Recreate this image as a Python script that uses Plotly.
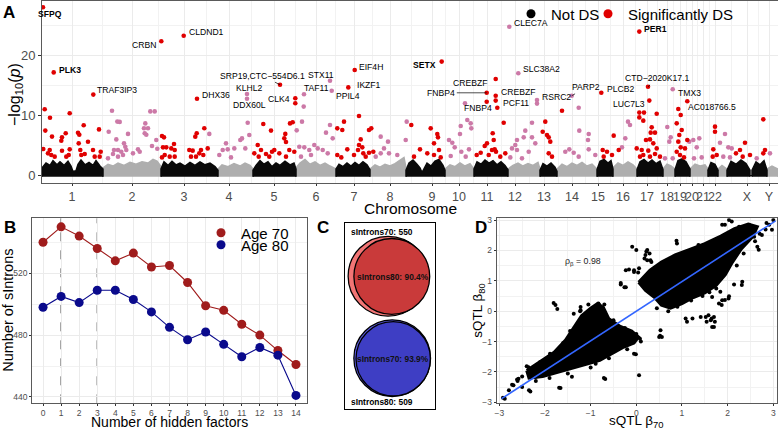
import plotly.graph_objects as go

FONT = "Liberation Sans, Arial, Helvetica, sans-serif"
W, H = 778, 428

# ================= Panel A data (Manhattan) =================
chrom_labels = [str(i) for i in range(1, 23)] + ["X", "Y"]
chrom_pos = [72, 132, 184, 229, 274, 316, 354, 390, 432, 459, 487, 515,
             544, 572, 598, 623, 647, 667, 680, 692, 703, 715, 747, 769]

# dense non-significant band (top of the point cloud per chromosome)
band_black_x = [
    [42, 46, 50, 53, 57, 60, 64, 68, 71, 73, 76, 78, 81, 85, 89, 93, 96, 100, 103],
    [161, 164, 168, 172, 176, 180, 185, 190, 195, 200, 205, 210, 215, 218],
    [253, 256, 260, 264, 268, 272, 276, 280, 285, 290, 294, 296],
    [336, 339, 343, 347, 351, 355, 359, 363, 367, 370],
    [406, 409, 413, 417, 420, 422, 424, 427, 431, 435, 439, 443, 445],
    [474, 477, 481, 485, 489, 493, 497, 501, 505, 508],
    [540, 543, 547, 551, 555, 557],
    [597, 600, 604, 608, 611, 613],
    [637, 640, 644, 648, 652, 656, 660, 663],
    [675, 678, 682, 686, 690],
    [708, 711, 715, 718],
    [727, 731, 736, 741, 746, 750],
    [752, 756, 760, 764, 767],
]
band_black_top = [
    [1.2, 2.0, 1.6, 2.4, 1.7, 2.2, 1.6, 2.3, 1.5, 0.6, 0.7, 1.8, 2.5, 1.7, 2.1, 1.6, 2.4, 1.5, 1.0],
    [1.0, 2.2, 1.6, 2.3, 1.7, 2.0, 1.5, 2.1, 1.6, 2.2, 1.7, 2.0, 1.4, 0.8],
    [0.8, 1.6, 2.4, 1.8, 2.2, 1.4, 2.0, 1.6, 2.3, 1.7, 2.0, 1.0],
    [1.0, 1.8, 1.4, 2.0, 1.5, 2.1, 1.6, 2.2, 1.7, 0.9],
    [0.8, 2.0, 2.5, 1.8, 1.2, 0.4, 1.0, 2.0, 1.5, 2.3, 2.6, 1.6, 0.8],
    [1.0, 2.2, 1.8, 2.5, 2.0, 2.4, 1.7, 2.2, 1.6, 0.9],
    [0.8, 1.9, 1.5, 2.0, 1.3, 0.6],
    [0.9, 2.3, 2.6, 2.0, 2.4, 1.0],
    [0.9, 2.2, 2.6, 2.0, 2.5, 1.9, 2.3, 0.9],
    [0.9, 2.4, 2.7, 2.2, 1.0],
    [0.8, 2.1, 1.8, 0.8],
    [0.8, 2.3, 1.8, 2.5, 1.9, 0.8],
    [0.8, 2.2, 1.7, 2.4, 0.8],
]
band_grey_x = [
    [103, 108, 113, 118, 124, 130, 136, 142, 148, 153, 157, 161],
    [218, 222, 228, 234, 240, 245, 250, 253],
    [296, 300, 305, 310, 315, 320, 325, 330, 336],
    [370, 375, 380, 385, 390, 395, 400, 404, 406],
    [445, 450, 455, 460, 465, 470, 474],
    [508, 513, 518, 523, 528, 533, 538, 540],
    [557, 562, 567, 572, 577, 582, 587, 592, 597],
    [613, 618, 623, 628, 633, 637],
    [663, 667, 671, 675],
    [690, 695, 700, 705, 708],
    [718, 722, 727],
    [767, 772, 778],
]
band_grey_top = [
    [1.2, 1.8, 1.5, 2.0, 1.6, 2.1, 1.8, 2.2, 2.0, 2.6, 2.3, 1.4],
    [1.0, 1.7, 1.4, 1.9, 1.5, 2.0, 1.6, 1.0],
    [1.2, 2.0, 2.6, 1.8, 2.2, 1.6, 2.0, 1.5, 1.0],
    [1.0, 1.7, 1.3, 1.8, 1.5, 1.9, 2.4, 2.9, 1.2],
    [1.0, 1.7, 1.4, 2.0, 1.5, 1.9, 1.0],
    [1.0, 1.6, 2.0, 1.5, 1.9, 1.6, 2.1, 1.0],
    [1.0, 1.8, 1.4, 2.0, 1.6, 2.1, 1.5, 1.8, 1.0],
    [1.2, 2.0, 1.6, 2.2, 1.7, 1.0],
    [1.0, 1.8, 1.5, 1.0],
    [1.0, 1.8, 1.5, 1.7, 1.0],
    [1.0, 1.6, 1.0],
    [1.0, 1.5, 1.0],
]

# significant points (odd chromosomes -> red, even chromosomes -> pink)
sig_red_x = [44.7, 50, 69.7, 45.3, 83.7, 99, 52, 65.7, 62, 61.3, 78, 79.3, 78.7, 88, 43.3, 49.7, 62, 69.7,
             80.3, 93, 100.7, 51.3, 54.7, 66.3, 81.3, 94.7, 48, 68.7, 84.7, 99.7,
             162, 164, 174, 163, 166.3, 171.3, 174.7, 162, 169.7, 174.7, 164.7, 196.7, 204.3, 195.3,
             189.3, 192.7, 199.3, 203.3, 207.7, 191, 196, 201,
             263.3, 271, 285.3, 284.3, 286, 290, 292.7, 257.7, 261, 272, 274.3, 254.3, 266, 279.3,
             289.3, 294.3, 286, 269.3, 258.7, 295.3,
             344, 337.3, 342.3, 359, 369, 371.3, 360.7, 359, 362.3, 347.3, 358, 369, 373.3, 337.3,
             341.3, 354, 365.7, 363.3,
             411.3, 420, 430.7, 437.3, 438, 434, 439, 427.3, 434, 440.7, 414,
             476.7, 480.7, 503.7, 492.7, 493.7, 487, 484.7, 492, 494.7, 496, 500.3, 488.7, 505.3, 486.7,
             545.3, 542.7, 547, 548.7, 550.3, 548.7, 552, 562,
             613.7, 602.7, 607, 612, 618.7, 603.7,
             639.3, 644, 656.7, 643.3, 639.3, 651.7, 650.7, 655, 646, 650, 653.3, 636.7, 641.7, 648.3,
             656.7, 643.3, 650, 655, 660, 640,
             678.3, 680.7, 676.7, 681.7, 679.3, 678.3, 680.7, 685, 676.7, 680, 684, 687.3,
             715, 715, 713.3, 716.7, 712.7,
             745, 740, 736, 750, 742.7,
             763.3, 765, 763.3]
sig_red_y = [10.95, 9.55, 10.3, 7.4, 8.3, 7.6, 6.4, 6.95, 6.28, 5.7, 7.05, 6.7, 5.28, 5.55, 4.33, 4.17, 4.05, 4.28,
             4.17, 4.17, 3.89, 3.33, 3.06, 3.06, 3.33, 3.06, 3.61, 3.33, 3.5, 3.06,
             6.5, 6.28, 5.17, 4.61, 4.61, 4.44, 4.17, 2.94, 3.06, 3.06, 3.33, 6.95, 7.8, 6.39,
             4.17, 4.06, 3.61, 3.33, 4.44, 3.06, 3.06, 4.17,
             8.5, 7.4, 6.85, 6.11, 5.5, 8.6, 8.8, 5.0, 4.17, 3.89, 4.17, 3.61, 3.5, 3.61,
             4.17, 3.89, 3.06, 3.06, 3.06, 11.95,
             8.89, 7.78, 7.5, 9.83, 7.5, 7.78, 5.94, 5.0, 4.61, 4.28, 4.17, 3.72, 3.89, 3.33,
             2.94, 3.33, 3.06, 3.61,
             8.33, 4.28, 7.78, 6.83, 6.28, 5.28, 4.17, 3.61, 3.33, 2.94, 3.06,
             3.33, 3.72, 8.72, 6.95, 5.83, 5.28, 4.83, 4.17, 4.28, 3.89, 3.06, 3.33, 3.61, 12.2,
             8.89, 7.22, 6.67, 6.28, 5.56, 3.61, 3.06, 10.7,
             6.56, 4.17, 3.89, 3.33, 4.17, 3.06,
             10.4, 10.4, 10.2, 9.06, 9.6, 7.94, 7.06, 7.06, 5.83, 5.94, 5.28, 4.44, 4.17, 4.06,
             4.44, 3.33, 3.06, 3.5, 3.06, 3.06,
             11.0, 10.0, 8.61, 7.5, 6.67, 5.56, 4.61, 4.44, 3.89, 3.33, 2.94, 5.83,
             8.06, 7.22, 4.28, 3.33, 3.06,
             5.39, 4.17, 3.61, 3.33, 3.06,
             9.28, 4.17, 3.61]
sig_pink_x = [112, 150.3, 154.7, 117.3, 119.7, 145.3, 148, 144, 108.7, 128, 144.7, 146.3, 116.3, 124, 125.3,
              138, 152, 156.3, 157.3, 114, 118, 121.3, 126.3, 108, 118, 133, 139.7, 113, 123,
              209.3, 227.7, 234.3, 226, 240.3, 242, 247.7, 249.3, 245.3, 219.3, 231, 222.7,
              302, 296.7, 299.3, 304.3, 309.3, 314.3, 317.7, 326, 330, 332.7, 322.7, 301, 311, 327.7, 303.7,
              380.7, 388, 384, 380.7, 389, 397.3, 405.7, 406.7, 375.7,
              449, 452.3, 460.7, 460, 467.3, 470.7, 471.3, 454.7, 461.3, 469, 450.7, 465.7, 465,
              532, 525.3, 517, 523.7, 515.3, 532, 512, 517, 528.7, 535.3, 510.3, 522, 537,
              578.7, 579.3, 588, 588.7, 569.3, 565.3, 573.7, 588.7, 578.7, 595.3,
              628, 625.3, 622, 630,
              667.3, 670.7, 669.3, 665, 672.7,
              693.3, 699.3, 689.3, 696.7, 694, 701.7,
              720, 725, 728.3, 731.7, 723.3, 730,
              756.7, 770]
sig_pink_y = [10.7, 10.6, 10.6, 8.9, 8.85, 8.6, 7.8, 7.8, 7.2, 6.85, 6.95, 6.7, 5.94, 5.28, 4.72,
              4.28, 4.83, 5.83, 4.39, 4.17, 4.17, 3.89, 4.17, 2.78, 3.06, 3.61, 3.89, 3.5, 3.33,
              6.85, 4.28, 4.44, 5.28, 5.83, 6.1, 8.72, 6.67, 4.44, 3.33, 2.94, 4.17,
              8.89, 7.44, 4.72, 4.61, 4.17, 5.0, 4.44, 7.06, 8.33, 6.11, 4.17, 3.06, 3.33, 3.61, 11.4,
              6.39, 5.56, 4.44, 3.61, 3.61, 3.33, 5.83, 8.89, 3.06,
              5.83, 5.39, 8.17, 6.83, 9.17, 8.61, 7.78, 4.61, 3.89, 4.28, 3.17, 3.06, 11.94,
              8.72, 7.39, 5.83, 6.28, 5.0, 6.28, 4.44, 4.17, 3.89, 5.28, 2.94, 2.78, 11.9,
              11.2, 7.39, 5.83, 6.83, 4.28, 3.89, 3.72, 4.28, 3.06, 3.33,
              8.89, 6.11, 4.61, 8.33,
              8.0, 6.28, 5.56, 2.78, 2.78,
              5.83, 6.11, 5.56, 4.61, 2.78, 2.94,
              5.39, 6.83, 4.61, 4.44, 3.06, 2.94,
              2.78, 3.61]

# labelled genes
lab_gene = ["SFPQ", "PLK3", "CRBN", "CLDND1", "TRAF3IP3", "DHX36", "KLHL2", "DDX60L",
            "SRP19,CTC\u2212554D6.1", "CLK4", "STX11", "TAF11", "PPIL4", "EIF4H", "IKZF1", "SETX",
            "CLEC7A", "PER1", "SLC38A2", "CREBZF", "FNBP4", "CREBZF", "PCF11", "FNBP4", "RSRC2",
            "PARP2", "PLCB2", "CTD\u22122020K17.1", "LUC7L3", "TMX3", "AC018766.5"]
lab_x = [43, 53.7, 161.3, 183.7, 93.3, 197, 247, 247, 280, 295.3, 330, 304, 331.7, 354.7, 348.3, 441.7,
         509.3, 639.3, 518.3, 495.7, 486.7, 495.7, 495.7, 497.3, 537, 571.7, 601.3, 648, 649.3, 672.7, 687.3]
lab_y = [27.95, 17.1, 22.3, 23.2, 13.4, 12.7, 13.5, 12.7, 15.05, 12.8, 15.7, 13.45, 14.05, 17.5, 14.6, 18.9,
         24.7, 23.9, 16.95, 16.0, 13.7, 13.2, 12.4, 11.2, 12.5, 13.2, 13.7, 14.7, 12.4, 14.3, 12.3]
lab_sig = ["r", "r", "r", "r", "r", "r", "p", "p", "r", "r", "p", "p", "p", "r", "r", "r",
           "p", "r", "p", "r", "r", "r", "r", "r", "p", "p", "r", "r", "r", "p", "r"]
lab_bold = ["SFPQ", "PLK3", "SETX", "PER1"]

# label placement (style): anchor, x shift px, y shift px (arrow: ax, ay)
lab_place = [("center", 7, -6.7), ("left", 3.5, 2.3), ("right", -3, -4), ("left", 3, 3.7),
             ("left", 2, 4.6), ("left", 3, 3.7), ("center", 2, 5.7), ("center", 2.5, -6.3),
             ("arrow", -18, -9), ("right", -3, -0.7), ("center", -8.7, 5.7), ("center", 12.3, 6),
             ("left", 2.7, -5.3), ("left", 2, 3.3), ("left", 6.7, 2.6), ("right", -3.3, -3.6),
             ("left", 3, 3.7), ("left", 3, 2.4), ("left", 3, 4), ("right", -7, -4),
             ("arrow", -45.4, 0), ("left", 3, 4), ("left", 5, -2.3), ("right", -3, -0.3),
             ("left", 2.7, 3), ("arrow", 14.3, -8.5), ("left", 3.3, 3.4), ("arrow", 8.7, -8.5),
             ("right", -2.7, -3.1), ("left", 3, -4), ("left", -1.6, -6)]

# ================= Panel B data =================
hidden_factors = list(range(15))
n_age70 = [540, 550, 544, 536, 528, 533, 524, 525, 514, 499, 496, 487, 480, 470, 461]
n_age80 = [498, 505, 501, 509, 509, 503, 495, 485, 477, 482, 474, 466, 472, 467, 441]
chosen_factors = [1, 3]

# ================= Panel C data =================
sintrons70 = 550
sintrons80 = 509
pct80_in70 = 90.4
pct70_in80 = 93.9

# ================= Panel D data =================
fit_slope, fit_intercept = 0.975, 0.0
fit_xrange = [-2.95, 3.05]
rho_beta = 0.98
cloud_low_x = [-2.4, -2.1, -1.8, -1.55, -1.35, -1.2, -1.0, -0.85, -0.72, -0.6, -0.35, -0.1, 0.05, -0.05,
               -0.3, -0.55, -0.8, -1.1, -1.4, -1.7, -2.05, -2.35]
cloud_low_y = [-1.95, -1.65, -1.35, -0.95, -0.5, -0.15, 0.1, 0.25, 0.12, -0.25, -0.5, -0.65, -0.85, -1.05,
               -1.2, -1.42, -1.62, -1.75, -1.88, -2.0, -2.15, -2.2]
cloud_up_x = [0.05, 0.3, 0.55, 0.85, 1.2, 1.5, 1.85, 2.15, 2.45, 2.65, 2.55, 2.3, 2.1, 1.95, 1.75, 1.5,
              1.25, 1.0, 0.75, 0.55, 0.4, 0.2]
cloud_up_y = [0.95, 1.35, 1.62, 1.85, 2.05, 2.22, 2.47, 2.72, 2.87, 2.78, 2.45, 2.05, 1.6, 1.2, 0.85, 0.6,
              0.45, 0.25, 0.1, 0.2, 0.45, 0.68]
sqtl_x = [-0.09, 0.24, 0.22, 0.20, 0.24, 0.31, 0.06, -0.05, -0.16, -0.23, -0.34, -0.34, 0.88, 1.88, 2.03,
          2.25, 2.47, 2.58, 2.65, 2.83, 2.91, 2.32, 2.14, 2.03, 1.88, 1.81, 1.70, 1.63, 1.66, 1.70, 1.52,
          1.41, 1.23, 1.08, 1.66, 1.84, 0.53, 0.52, 0.50, -1.81, -1.77, -1.73, -1.22, -1.22, 0.06, -0.71,
          -0.05, -0.01, -1.69, -2.35, -2.72, -2.92, -2.88, -2.61, -2.40, -2.24, -2.20, -2.79, -2.50, -0.38,
          -0.89, -2.36, -2.11, -1.89, -1.37, -1.23, -0.83, -0.81, 0.08, -0.68, -1.66, -1.41, -2.58, -2.69,
          -2.32, 0.00, 0.29, 0.33, 0.18, -0.05, 0.04, -0.23, 0.89, 1.29, 1.36, 1.94, 2.09, 2.31, 2.53,
          2.68, 2.75, 2.97, 2.31, 2.02, 1.94, 1.87, 1.65, 1.72, 1.54, 1.58, 1.11, 0.56, -0.26,
          1.3, 1.45, 1.6, 1.75, 1.2, 0.9, 0.7, 0.45, 2.2, 2.35, 2.6, 2.7, 2.85, 3.0,
          -2.6, -2.5, -2.2, -1.95, -1.6, -1.45, -1.05, -0.7, -0.5, -0.25, 0.0, 0.1, -0.2, -0.6, -1.0,
          -1.5, -1.9, -2.2]
sqtl_y = [2.12, 2.01, 1.96, 1.85, 1.68, 1.68, 1.41, 1.35, 1.37, 1.35, 0.93, 0.88, 2.32, 2.84, 3.0,
          2.78, 2.84, 2.45, 2.12, 2.69, 2.84, 0.97, 0.88, 0.49, 0.36, 0.25, -0.19, -0.30, -0.52, -0.52, -0.19,
          -0.19, -0.24, -0.24, 0.47, 0.64, -0.63, -0.81, -0.85, 0.27, 0.20, 0.07, 0.14, 0.03, -2.11, -2.2,
          -1.40, -1.42, -2.52, -2.60, -2.42, -2.85, -2.88, -2.25, -1.81, -1.84, -2.16, -2.60, -2.49, -1.18,
          -1.73, -1.84, -1.68, -1.40, -0.08, 0.0, 0.25, 0.2, -0.91, -2.23, -2.53, -2.16, -2.22, -2.44,
          -2.64, 2.01, 1.9, 1.62, 1.73, 1.29, 1.27, 0.79, 2.23, 1.96, 2.18, 2.84, 2.95, 2.73, 2.57,
          2.02, 2.51, 2.68, 0.86, 0.42, 0.37, 0.20, -0.24, -0.35, -0.35, -0.13, -0.35, -0.85, 0.79,
          0.55, 0.5, 0.62, 0.75, 0.35, 0.15, 0.0, 0.1, 1.5, 1.9, 2.3, 2.55, 2.9, 3.0,
          -2.3, -2.15, -1.9, -1.55, -1.05, -0.65, 0.22, 0.22, -0.3, -0.55, -0.75, -1.0, -1.25, -1.55, -1.85,
          -2.05, -2.2, -2.3]

# ================= styles =================
RED, PINK, GREY = "#E00000", "#CC79A7", "#AEAEAE"
AGE70_C, AGE80_C = "#A01C1C", "#0A0A8C"
GRID, GRIDMINOR = "#EBEBEB", "#F2F2F2"
TICKC = "#4D4D4D"
BORDER = "#5A5A5A"


def px_x(x):
    return x / W


def px_y(y):
    return 1 - y / H


fig = go.Figure()

# ---- Panel A ----
BAND_BASE = -0.3
for xs, tops in zip(band_grey_x, band_grey_top):
    fig.add_trace(go.Scatter(x=[xs[0]] + xs + [xs[-1]], y=[BAND_BASE] + tops + [BAND_BASE],
                             fill="toself", fillcolor=GREY, mode="lines",
                             line=dict(color=GREY, width=1.5), hoverinfo="skip",
                             showlegend=False, xaxis="x", yaxis="y"))
for xs, tops in zip(band_black_x, band_black_top):
    fig.add_trace(go.Scatter(x=[xs[0]] + xs + [xs[-1]], y=[BAND_BASE] + tops + [BAND_BASE],
                             fill="toself", fillcolor="#0A0A0A", mode="lines",
                             line=dict(color="#0A0A0A", width=1.5), hoverinfo="skip",
                             showlegend=False, xaxis="x", yaxis="y"))

pink_x = sig_pink_x + [x for x, s in zip(lab_x, lab_sig) if s == "p"]
pink_y = sig_pink_y + [y for y, s in zip(lab_y, lab_sig) if s == "p"]
red_x = sig_red_x + [x for x, s in zip(lab_x, lab_sig) if s == "r"]
red_y = sig_red_y + [y for y, s in zip(lab_y, lab_sig) if s == "r"]
fig.add_trace(go.Scatter(x=pink_x, y=pink_y, mode="markers", marker=dict(color=PINK, size=4.6),
                         showlegend=False, xaxis="x", yaxis="y"))
fig.add_trace(go.Scatter(x=red_x, y=red_y, mode="markers", marker=dict(color=RED, size=4.6),
                         showlegend=False, xaxis="x", yaxis="y"))
# legend entries (each in its own legend box for exact placement)
fig.add_trace(go.Scatter(x=[None], y=[None], mode="markers", marker=dict(color="black", size=9),
                         name="Not DS", legend="legend", xaxis="x", yaxis="y"))
fig.add_trace(go.Scatter(x=[None], y=[None], mode="markers", marker=dict(color=RED, size=9),
                         name="Significantly DS", legend="legend2", xaxis="x", yaxis="y"))

annotations = []
LABF = dict(family=FONT, size=8.6, color="black")
for g, x, y, pl in zip(lab_gene, lab_x, lab_y, lab_place):
    txt = f"<b>{g}</b>" if g in lab_bold else g
    if pl[0] == "arrow":
        annotations.append(dict(x=x, y=y, xref="x", yref="y", text=txt, showarrow=True,
                                ax=pl[1], ay=pl[2], arrowhead=0,
                                arrowwidth=0.7, arrowcolor="black", standoff=0, startstandoff=0,
                                font=LABF))
    else:
        annotations.append(dict(x=x, y=y, xref="x", yref="y", text=txt, showarrow=False,
                                xanchor=pl[0], yanchor="middle", xshift=pl[1], yshift=pl[2],
                                font=LABF))

# ---- Panel B ----
fig.add_trace(go.Scatter(x=hidden_factors, y=n_age70, mode="lines+markers",
                         line=dict(color=AGE70_C, width=1.1),
                         marker=dict(color=AGE70_C, size=9), showlegend=False,
                         xaxis="x2", yaxis="y2"))
fig.add_trace(go.Scatter(x=hidden_factors, y=n_age80, mode="lines+markers",
                         line=dict(color=AGE80_C, width=1.1),
                         marker=dict(color=AGE80_C, size=9), showlegend=False,
                         xaxis="x2", yaxis="y2"))
fig.add_trace(go.Scatter(x=[None], y=[None], mode="markers", marker=dict(color=AGE70_C, size=9),
                         name="Age 70", legend="legend3", xaxis="x2", yaxis="y2"))
fig.add_trace(go.Scatter(x=[None], y=[None], mode="markers", marker=dict(color=AGE80_C, size=9),
                         name="Age 80", legend="legend4", xaxis="x2", yaxis="y2"))

shapes = []
for f in chosen_factors:
    shapes.append(dict(type="line", xref="x2", yref="y2 domain", x0=f, x1=f, y0=0, y1=1,
                       line=dict(color="#1A1A1A", width=1, dash="dash"), layer="below"))

# ---- Panel C (circles sized by counts) ----
K = 1.70
r70 = K * sintrons70 ** 0.5
r80 = K * sintrons80 ** 0.5
r_ov70 = K * (sintrons70 * pct80_in70 / 100) ** 0.5
r_ov80 = K * (sintrons80 * pct70_in80 / 100) ** 0.5
circles = [((388, 276.2), r70, "#F27575"), ((391.8, 276.4), r_ov70, "#C93A3A"),
           ((392.2, 358.2), r80, "#5A5AE0"), ((393.2, 358.8), r_ov80, "#3E3EC4")]
for (cx, cy), r, col in circles:
    shapes.append(dict(type="circle", xref="x3", yref="y3", x0=cx - r, x1=cx + r, y0=cy - r, y1=cy + r,
                       fillcolor=col, line=dict(color="black", width=1.3)))
CF = dict(family=FONT, size=8.4, color="black")
annotations += [
    dict(x=px_x(349), y=px_y(231.7), xref="paper", yref="paper", xanchor="left", yanchor="middle",
         text=f"<b>sIntrons70: {sintrons70}</b>", showarrow=False, font=CF),
    dict(x=px_x(393.3), y=px_y(277), xref="paper", yref="paper", xanchor="center", yanchor="middle",
         text=f"<b>sIntrons80: {pct80_in70}%</b>", showarrow=False, font=dict(CF, color="#111")),
    dict(x=px_x(393.3), y=px_y(358.7), xref="paper", yref="paper", xanchor="center", yanchor="middle",
         text=f"<b>sIntrons70: {pct70_in80}%</b>", showarrow=False, font=dict(CF, color="#111")),
    dict(x=px_x(349), y=px_y(402.3), xref="paper", yref="paper", xanchor="left", yanchor="middle",
         text=f"<b>sIntrons80: {sintrons80}</b>", showarrow=False, font=CF),
]

# ---- Panel D ----
for cxs, cys in [(cloud_low_x, cloud_low_y), (cloud_up_x, cloud_up_y)]:
    fig.add_trace(go.Scatter(x=cxs + [cxs[0]], y=cys + [cys[0]], fill="toself", fillcolor="black",
                             mode="lines", line=dict(color="black", width=3), hoverinfo="skip",
                             showlegend=False, xaxis="x4", yaxis="y4"))
fig.add_trace(go.Scatter(x=sqtl_x, y=sqtl_y, mode="markers", marker=dict(color="black", size=4),
                         showlegend=False, xaxis="x4", yaxis="y4"))
fig.add_trace(go.Scatter(x=fit_xrange, y=[fit_intercept + fit_slope * v for v in fit_xrange],
                         mode="lines", line=dict(color="#3366FF", width=1.6), showlegend=False,
                         xaxis="x4", yaxis="y4"))
annotations.append(dict(x=-1.17, y=1.63, xref="x4", yref="y4", text=f"\u03c1<sub>\u03b2</sub> = {rho_beta}",
                        xanchor="center", yanchor="middle",
                        showarrow=False, font=dict(family=FONT, size=8.8, color="#222")))

# ---- axis titles and panel letters ----
TF = dict(family=FONT, size=16, color="black")


def title_ann(text, cx, cy, size, angle=0):
    return dict(x=px_x(cx), y=px_y(cy), xref="paper", yref="paper", text=text, showarrow=False,
                xanchor="center", yanchor="middle", textangle=angle, font=dict(TF, size=size))


annotations += [
    title_ann("Chromosome", 410, 208, 15.5),
    title_ann("\u2212log<sub>10</sub>(<i>p</i>)", 15, 95, 16, -90),
    title_ann("Number of hidden factors", 169.5, 421.5, 14),
    title_ann("Number of sIntrons", 8, 310.8, 14.5, -90),
    title_ann("sQTL \u03b2<sub>70</sub>", 636.7, 421, 13.5),
    title_ann("sQTL \u03b2<sub>80</sub>", 479, 310.8, 13.5, -90),
]
for letter, lx, ly in [("A", 9, 12), ("B", 10, 228), ("C", 323, 228), ("D", 481, 228)]:
    annotations.append(title_ann(f"<b>{letter}</b>", lx, ly, 17))


def axis_common(**kw):
    d = dict(showline=True, mirror=True, linecolor=BORDER, linewidth=0.9, zeroline=False,
             gridcolor=GRID, gridwidth=1, ticks="outside", ticklen=2, tickcolor="#333333",
             tickwidth=0.8, automargin=False, tickangle=0,
             tickfont=dict(family=FONT, size=8.5, color=TICKC))
    d.update(kw)
    return d


def legend_box(px_left, px_mid):
    return dict(x=px_x(px_left), y=px_y(px_mid), xanchor="left", yanchor="middle", orientation="v",
                font=dict(family=FONT, size=15, color="black"), bgcolor="rgba(0,0,0,0)",
                itemwidth=30, tracegroupgap=0, itemclick=False, borderwidth=0)


mids = [(a + b) / 2 for a, b in zip(chrom_pos[:-1], chrom_pos[1:])]
fig.update_layout(
    width=W, height=H, margin=dict(l=0, r=0, t=0, b=0, pad=0, autoexpand=False),
    paper_bgcolor="white", plot_bgcolor="white",
    font=dict(family=FONT),
    xaxis=axis_common(domain=[px_x(42), 1.0], range=[42, 778], tickmode="array", tickvals=chrom_pos,
                      ticktext=chrom_labels, tickfont=dict(family=FONT, size=12.5, color=TICKC),
                      minor=dict(tickvals=mids, showgrid=True, gridcolor=GRIDMINOR, gridwidth=0.6,
                                 ticks=""), anchor="y"),
    yaxis=axis_common(domain=[px_y(182.7), px_y(1)], range=[-1.28, 29.0], tickvals=[0, 10, 20],
                      tickfont=dict(family=FONT, size=13, color=TICKC), ticklen=3,
                      minor=dict(tickvals=[5, 15, 25], showgrid=True, gridcolor=GRIDMINOR,
                                 gridwidth=0.6, ticks=""),
                      zeroline=True, zerolinecolor="black", zerolinewidth=1.1, anchor="x"),
    xaxis2=axis_common(domain=[px_x(32.2), px_x(306.8)], range=[-0.6, 14.6], tickvals=hidden_factors,
                       anchor="y2"),
    yaxis2=axis_common(domain=[px_y(403.3), px_y(218.3)], range=[435.9, 555.5], tickvals=[440, 480, 520],
                       minor=dict(tickvals=[460, 500, 540], showgrid=True, gridcolor=GRIDMINOR,
                                  gridwidth=0.6, ticks=""), anchor="x2"),
    xaxis3=dict(domain=[px_x(344.7), px_x(434.7)], range=[344.7, 434.7], showline=True, mirror=True,
                linecolor="black", linewidth=1, showgrid=False, zeroline=False, showticklabels=False,
                ticks="", anchor="y3", fixedrange=True),
    yaxis3=dict(domain=[px_y(409.3), px_y(223.3)], range=[409.3, 223.3], showline=True, mirror=True,
                linecolor="black", linewidth=1, showgrid=False, zeroline=False, showticklabels=False,
                ticks="", anchor="x3", fixedrange=True),
    xaxis4=axis_common(domain=[px_x(496.7), px_x(776.7)], range=[-3.057, 3.074], tickvals=[-3, -2, -1, 0, 1, 2, 3],
                       ticktext=["\u22123", "\u22122", "\u22121", "0", "1", "2", "3"],
                       minor=dict(tickvals=[-2.5, -1.5, -0.5, 0.5, 1.5, 2.5], showgrid=True,
                                  gridcolor=GRIDMINOR, gridwidth=0.6, ticks=""), anchor="y4"),
    yaxis4=axis_common(domain=[px_y(403.3), px_y(218.3)], range=[-3.03, 3.056], tickvals=[-3, -2, -1, 0, 1, 2, 3],
                       ticktext=["\u22123", "\u22122", "\u22121", "0", "1", "2", "3"],
                       minor=dict(tickvals=[-2.5, -1.5, -0.5, 0.5, 1.5, 2.5], showgrid=True,
                                  gridcolor=GRIDMINOR, gridwidth=0.6, ticks=""), anchor="x4"),
    legend=legend_box(511, 14),
    legend2=legend_box(588, 14),
    legend3=legend_box(201, 233),
    legend4=legend_box(201, 245),
    annotations=annotations,
    shapes=shapes,
)

# the html page must not add its default 8px body margin around the fixed-size figure
fig.write_html("out.html", config={"displayModeBar": False},
               post_script="document.body.style.margin='0';document.body.style.padding='0';")
